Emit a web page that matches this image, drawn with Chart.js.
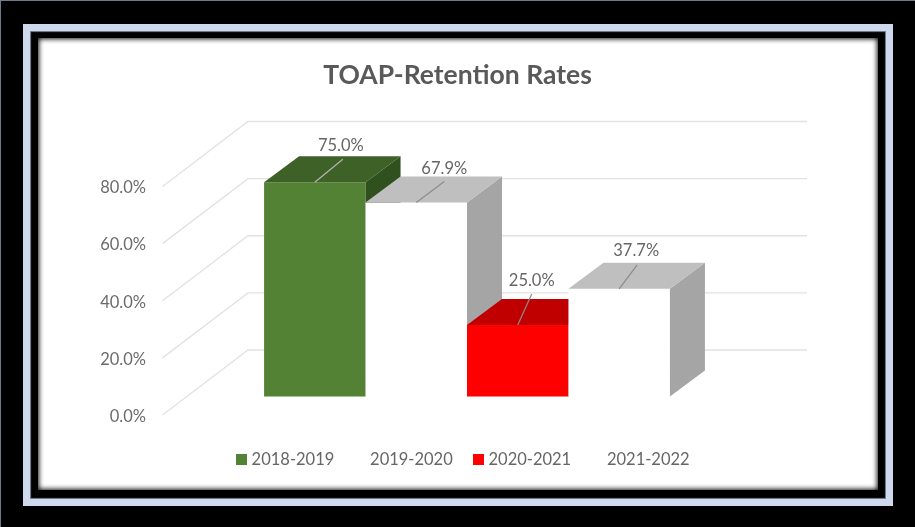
<!DOCTYPE html>
<html>
<head>
<meta charset="utf-8">
<title>TOAP-Retention Rates</title>
<script src="https://cdn.jsdelivr.net/npm/chart.js@4"></script>
<style>
  html, body { margin: 0; padding: 0; background: #000; overflow: hidden; }
  #edge { position: absolute; left: 0; top: 0; width: 915px; height: 527px; box-sizing: border-box;
    border-left: 1px solid #6f7b8c; border-top: 1px solid #6f7b8c; }
  #band { position: absolute; left: 23px; top: 24px; width: 870px; height: 482px; box-sizing: border-box;
    background: #000; border: 7px solid #cfd9ee; box-shadow: inset 0 0 1px 1px #7c8595; }
  #paper { position: absolute; left: 38px; top: 38px; width: 840px; height: 452px; background: #fff; }
  #paper:after { content: ""; position: absolute; inset: 0; box-shadow: inset 0 0 5px 1px #111; }
  #myChart { position: absolute; left: 0; top: 0; }
</style>
</head>
<body>
<div id="edge"></div>
<div id="band"></div>
<div id="paper"></div>
<canvas id="myChart" width="915" height="527"></canvas>
<script>
const years = ["2018-2019", "2019-2020", "2020-2021", "2021-2022"];
const retention = [75.0, 67.9, 25.0, 37.7];
const yTicks = [0, 20, 40, 60, 80];

const frontColors = ["#548235", "#ffffff", "#ff0000", "#ffffff"];
const topColors = ["#3e6127", "#bfbfbf", "#c00000", "#bfbfbf"];
const sideColors = ["#30501d", "#a5a5a5", "#a00000", "#a5a5a5"];

// fake 3d: how far the bars and the walls go back from the plane of the bar fronts
const barDepth = { x: 35, y: -26 };
const wallBack = { x: 60.5, y: -46.5 };
const wallFront = { x: -25, y: 18.5 };

// where each value label and its leader line sit, measured from the bar's top centre
const labelOffsets = [[26, -37], [28, -34], [14, -44], [17, -38]];
const leaderEnds = [[28, -23], [28, -21], [14, -31], [18, -24]];

const poly = (ctx, color, pts) => {
  ctx.fillStyle = color;
  ctx.beginPath();
  pts.forEach((p, i) => (i ? ctx.lineTo(p[0], p[1]) : ctx.moveTo(p[0], p[1])));
  ctx.closePath();
  ctx.fill();
};

// legend square as an image, the built-in box sits too far from its text
const swatch = (color) => {
  const c = document.createElement("canvas");
  c.width = 11;
  c.height = 11;
  const g = c.getContext("2d");
  g.fillStyle = color;
  g.fillRect(0, 0, 11, 11);
  return c;
};

const walls3d = {
  id: "walls3d",
  beforeDatasetsDraw(chart) {
    const { ctx, chartArea, scales } = chart;
    ctx.save();
    ctx.strokeStyle = "#e2e2e2";
    ctx.lineWidth = 1.3;
    yTicks.forEach((v) => {
      const y = scales.y.getPixelForValue(v);
      ctx.beginPath();
      ctx.moveTo(chartArea.left + wallFront.x, y + wallFront.y);
      ctx.lineTo(chartArea.left + wallBack.x, y + wallBack.y);
      ctx.lineTo(chartArea.right + wallBack.x, y + wallBack.y);
      ctx.stroke();
    });
    ctx.restore();
  },
};

// chart.js paints the last dataset first, here the bars have to go left to right
// so that the nearer bar covers the depth of the one before it
const bars3d = {
  id: "bars3d",
  afterLayout(chart) {
    chart.legend.left += 7;
    chart.legend.right += 7;
  },
  beforeDatasetDraw: () => false,
  afterDatasetsDraw(chart) {
    const { ctx } = chart;
    retention.forEach((v, i) => {
      const meta = chart.getDatasetMeta(i);
      const bar = meta.data[0];
      const l = bar.x - bar.width / 2;
      const r = bar.x + bar.width / 2;
      const t = bar.y;
      const b = bar.base;
      const dx = barDepth.x;
      const dy = barDepth.y;
      meta.controller.draw();
      ctx.save();
      poly(ctx, sideColors[i], [[r, t], [r + dx, t + dy], [r + dx, b + dy], [r, b]]);
      poly(ctx, topColors[i], [[l, t], [l + dx, t + dy], [r + dx, t + dy], [r, t]]);
      ctx.restore();
    });
    ctx.save();
    ctx.font = "16.5px Lato";
    ctx.textAlign = "center";
    ctx.textBaseline = "middle";
    retention.forEach((v, i) => {
      const bar = chart.getDatasetMeta(i).data[0];
      ctx.strokeStyle = i === 0 ? "#b5b5b5" : "#8c8c8c";
      ctx.lineWidth = 1.2;
      ctx.beginPath();
      ctx.moveTo(bar.x, bar.y);
      ctx.lineTo(bar.x + leaderEnds[i][0], bar.y + leaderEnds[i][1]);
      ctx.stroke();
      ctx.fillStyle = "#666666";
      ctx.fillText(v.toFixed(1) + "%", bar.x + labelOffsets[i][0], bar.y + labelOffsets[i][1]);
    });
    ctx.restore();
  },
};

new Chart(document.getElementById("myChart"), {
  type: "bar",
  data: {
    labels: ["Retention"],
    datasets: years.map((year, i) => ({
      label: year,
      data: [retention[i]],
      backgroundColor: frontColors[i],
      borderWidth: 0,
      barPercentage: 1,
      categoryPercentage: 0.726,
    })),
  },
  options: {
    responsive: false,
    animation: false,
    events: [],
    layout: { padding: { left: 0, right: 0, top: 0, bottom: 49 } },
    scales: {
      x: {
        grid: { display: false, drawTicks: false },
        border: { display: false },
        ticks: { display: false },
        afterFit: (scale) => { scale.height = 31.5; },
      },
      y: {
        min: 0,
        max: 80,
        afterBuildTicks: (scale) => { scale.ticks = yTicks.map((value) => ({ value })); },
        grid: { display: false, drawTicks: false },
        border: { display: false },
        ticks: {
          padding: 41.5,
          labelOffset: 20,
          color: "#6b6b6b",
          font: { family: "Lato", size: 16.5 },
          callback: (v) => v.toFixed(1) + "%",
        },
        afterFit: (scale) => { scale.width = 187.5; },
      },
      // empty axis on the right, keeps title and legend centred on the page
      rightGap: {
        position: "right",
        grid: { display: false, drawTicks: false },
        border: { display: false },
        ticks: { display: false },
        afterFit: (scale) => { scale.width = 168.5; },
      },
    },
    plugins: {
      title: {
        display: true,
        text: "TOAP-Retention Rates",
        color: "#595959",
        font: { family: "Lato", size: 26.5, weight: "bold" },
        padding: { top: 59.6, bottom: 76.6 },
      },
      legend: {
        position: "bottom",
        labels: {
          usePointStyle: true,
          pointStyleWidth: 4,
          padding: 23.5,
          color: "#666666",
          font: { family: "Lato", size: 16.5 },
          generateLabels: (chart) =>
            Chart.defaults.plugins.legend.labels.generateLabels(chart).map((item, i) => ({
              ...item,
              pointStyle: swatch(frontColors[i]),
            })),
        },
      },
      tooltip: { enabled: false },
    },
  },
  plugins: [walls3d, bars3d],
});
</script>
</body>
</html>
